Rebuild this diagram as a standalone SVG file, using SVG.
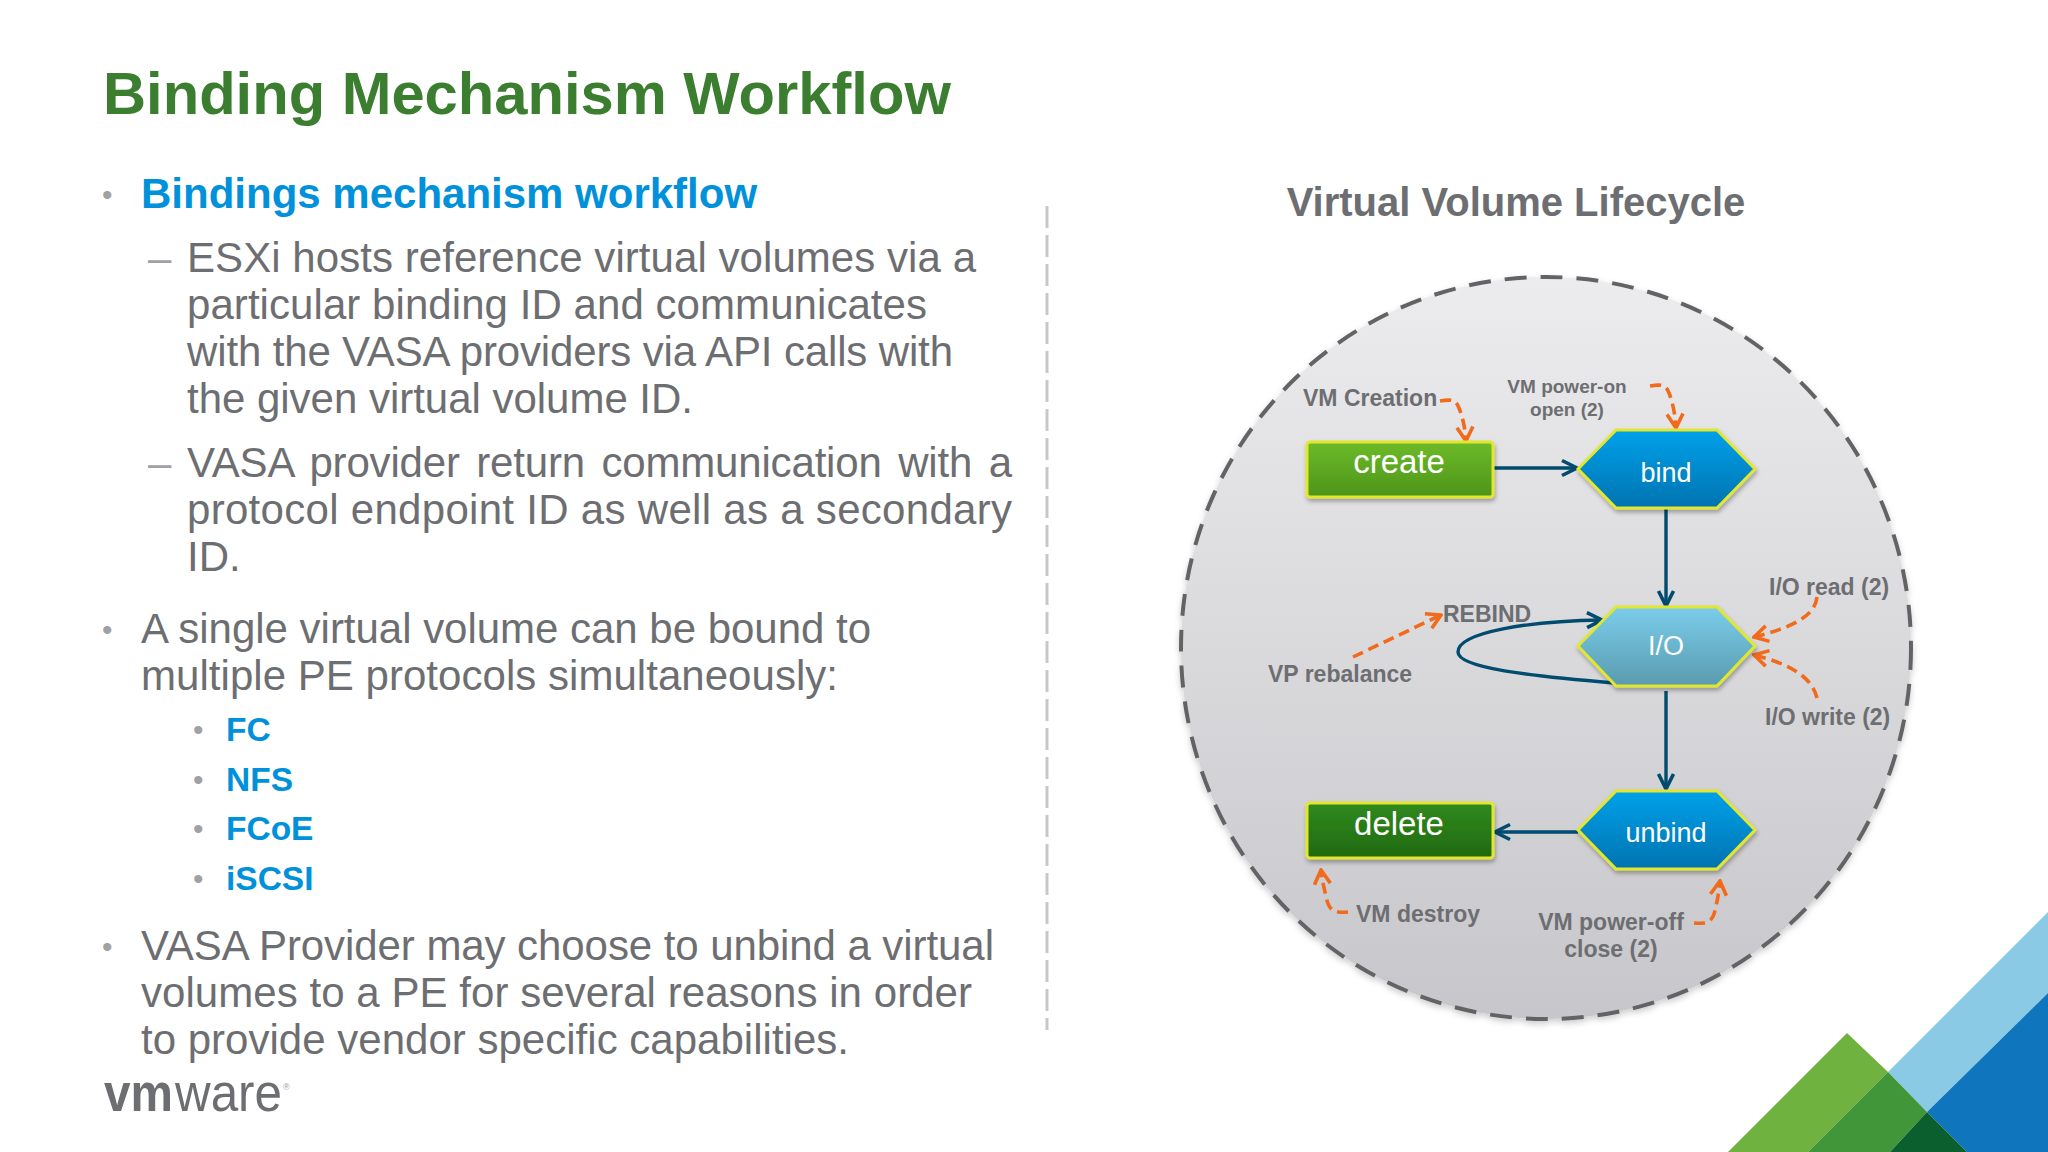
<svg xmlns="http://www.w3.org/2000/svg" width="2048" height="1152" viewBox="0 0 2048 1152">
<defs>
<linearGradient id="gc" x1="0" y1="0" x2="0" y2="1"><stop offset="0" stop-color="#ECECEE"/><stop offset="1" stop-color="#C7C6CA"/></linearGradient>
<linearGradient id="gg1" x1="0" y1="0" x2="0" y2="1"><stop offset="0" stop-color="#6CBB2A"/><stop offset="1" stop-color="#4E9419"/></linearGradient>
<linearGradient id="gg2" x1="0" y1="0" x2="0" y2="1"><stop offset="0" stop-color="#308A1E"/><stop offset="1" stop-color="#21690F"/></linearGradient>
<linearGradient id="gb" x1="0" y1="0" x2="0" y2="1"><stop offset="0" stop-color="#00A1EA"/><stop offset="1" stop-color="#0073B0"/></linearGradient>
<linearGradient id="gi" x1="0" y1="0" x2="0" y2="1"><stop offset="0" stop-color="#7ACDEB"/><stop offset="1" stop-color="#5A9BB0"/></linearGradient>
<filter id="sh" x="-10%" y="-10%" width="120%" height="125%"><feDropShadow dx="1" dy="3" stdDeviation="2" flood-color="#000" flood-opacity="0.3"/></filter>
<filter id="sc" x="-5%" y="-5%" width="110%" height="110%"><feDropShadow dx="0" dy="3" stdDeviation="3" flood-color="#000" flood-opacity="0.2"/></filter>
<marker id="ad" viewBox="0 0 20 20" refX="18" refY="10" markerUnits="userSpaceOnUse" markerWidth="20" markerHeight="20" orient="auto"><path d="M3,2.5 L18,10 L3,17.5" fill="none" stroke="#004B6E" stroke-width="3.6"/></marker>
<marker id="ao" viewBox="0 0 22 22" refX="20" refY="11" markerUnits="userSpaceOnUse" markerWidth="22" markerHeight="22" orient="auto"><path d="M6,3 L20,11 L6,19" fill="none" stroke="#F26A1B" stroke-width="3.6"/></marker>
</defs>
<style>
text{font-family:"Liberation Sans",Arial,sans-serif}
.t{font-size:59.7px;font-weight:700;fill:#3B7E2F}
.b{font-size:42px;fill:#6D6E71}
.h{font-size:42px;font-weight:700;fill:#0091DA}
.s{font-size:33.5px;font-weight:700;fill:#0091DA}
.u{font-size:30px;fill:#A0A1A4}
.d{font-size:42px;fill:#A0A1A4}
.l{font-size:23px;font-weight:700;fill:#6D6E71}
.m{font-size:19px;font-weight:700;fill:#6D6E71;text-anchor:middle}
.n{fill:#fff;text-anchor:middle}
.box{stroke:#E1E62E;stroke-width:3;filter:url(#sh)}
.dk{fill:none;stroke:#004B6E;stroke-width:3.4}
.or{fill:none;stroke:#F26A1B;stroke-width:3.6;stroke-dasharray:11 6;marker-end:url(#ao)}
</style>
<rect width="2048" height="1152" fill="#fff"/>
<text class="t" x="103" y="114">Binding Mechanism Workflow</text>
<g id="bullets">
<text class="u" x="102" y="205">•</text>
<text class="h" x="141" y="208">Bindings mechanism workflow</text>
<text class="d" x="148" y="272">–</text>
<text class="b" x="187" y="272" textLength="789">ESXi hosts reference virtual volumes via a</text>
<text class="b" x="187" y="319" textLength="740">particular binding ID and communicates</text>
<text class="b" x="187" y="366" textLength="766">with the VASA providers via API calls with</text>
<text class="b" x="187" y="413" textLength="506">the given virtual volume ID.</text>
<text class="d" x="148" y="477">–</text>
<text class="b" x="187" y="477" word-spacing="5" textLength="825">VASA provider return communication with a</text>
<text class="b" x="187" y="524" textLength="825">protocol endpoint ID as well as a secondary</text>
<text class="b" x="187" y="571">ID.</text>
<text class="u" x="102" y="640">•</text>
<text class="b" x="141" y="643" textLength="730">A single virtual volume can be bound to</text>
<text class="b" x="141" y="690" textLength="697">multiple PE protocols simultaneously:</text>
<text class="u" x="193" y="740">•</text>
<text class="s" x="226" y="741">FC</text>
<text class="u" x="193" y="790">•</text>
<text class="s" x="226" y="791">NFS</text>
<text class="u" x="193" y="839">•</text>
<text class="s" x="226" y="840">FCoE</text>
<text class="u" x="193" y="889">•</text>
<text class="s" x="226" y="890">iSCSI</text>
<text class="u" x="102" y="957">•</text>
<text class="b" x="141" y="960" textLength="853">VASA Provider may choose to unbind a virtual</text>
<text class="b" x="141" y="1007" textLength="831">volumes to a PE for several reasons in order</text>
<text class="b" x="141" y="1054" textLength="708">to provide vendor specific capabilities.</text>
</g>
<g id="logo">
<text x="104" y="1111" font-size="54" font-weight="700" fill="#6D6E71" textLength="69" lengthAdjust="spacingAndGlyphs">vm</text>
<text x="175" y="1111" font-size="54" fill="#6D6E71" textLength="107" lengthAdjust="spacingAndGlyphs">ware</text>
<text x="283" y="1090" font-size="9" fill="#A0A1A4">®</text>
</g>
<line id="divider" x1="1047" y1="206" x2="1047" y2="1030" stroke="#C8C8CA" stroke-width="3" stroke-dasharray="22 7"/>
<g id="corner">
<polygon points="2048,912 1888,1072 1927,1112 2048,993" fill="#8ACAE5"/>
<polygon points="2048,993 1927,1112 1967,1152 2048,1152" fill="#0F75BC"/>
<polygon points="1847,1033 1728,1152 1808,1152 1888,1072" fill="#70B23F"/>
<polygon points="1888,1072 1808,1152 1890,1152 1927,1112" fill="#419639"/>
<polygon points="1927,1112 1890,1152 1967,1152" fill="#0B5E2D"/>
</g>
<text id="lifecycle-title" x="1516" y="216" font-size="40" font-weight="700" fill="#6D6E71" text-anchor="middle">Virtual Volume Lifecycle</text>
<ellipse id="lifecycle-circle" cx="1546" cy="648" rx="365" ry="371" fill="url(#gc)" stroke="#636466" stroke-width="4" stroke-dasharray="22 14" filter="url(#sc)"/>
<g id="connectors">
<path class="dk" d="M1493,468H1577" marker-end="url(#ad)"/>
<path class="dk" d="M1666,508V606" marker-end="url(#ad)"/>
<path class="dk" d="M1666,691V789" marker-end="url(#ad)"/>
<path class="dk" d="M1578,832H1495" marker-end="url(#ad)"/>
<path class="dk" d="M1614,683C1530,676 1458,668 1458,652C1458,632 1530,621 1602,620" marker-end="url(#ad)"/>
<path class="or" d="M1440,401C1452,399 1456,400 1459,408C1463,418 1465,428 1466,441"/>
<path class="or" d="M1650,386C1662,384 1666,385 1669,393C1673,403 1675,414 1676,428"/>
<path class="or" d="M1353,657L1441,615"/>
<path class="or" d="M1817,597C1815,617 1790,628 1754,637"/>
<path class="or" d="M1817,698C1812,677 1790,664 1754,655"/>
<path class="or" d="M1348,912C1330,914 1328,906 1326,896C1324,888 1322,880 1321,870"/>
<path class="or" d="M1694,923C1712,925 1714,917 1716,906C1718,898 1719,890 1720,881"/>
</g>
<g id="create"><rect class="box" x="1307" y="442" width="186" height="55" rx="3" fill="url(#gg1)"/><text class="n" x="1399" y="473" font-size="33">create</text></g>
<g id="bind"><polygon class="box" points="1578,469 1616,430 1717,430 1755,469 1717,508 1616,508" fill="url(#gb)"/><text class="n" x="1666" y="482" font-size="27">bind</text></g>
<g id="io"><polygon class="box" points="1578,646 1616,607 1717,607 1755,646 1717,686 1616,686" fill="url(#gi)"/><text class="n" x="1666" y="655" font-size="27">I/O</text></g>
<g id="unbind"><polygon class="box" points="1578,830 1616,791 1717,791 1755,830 1717,869 1616,869" fill="url(#gb)"/><text class="n" x="1666" y="842" font-size="27">unbind</text></g>
<g id="delete"><rect class="box" x="1307" y="803" width="186" height="55" rx="3" fill="url(#gg2)"/><text class="n" x="1399" y="835" font-size="33">delete</text></g>
<g id="labels">
<text class="l" x="1303" y="406">VM Creation</text>
<text class="m" x="1567" y="393">VM power-on</text>
<text class="m" x="1567" y="416">open (2)</text>
<text class="l" x="1443" y="622">REBIND</text>
<text class="l" x="1268" y="682">VP rebalance</text>
<text class="l" x="1769" y="595">I/O read (2)</text>
<text class="l" x="1765" y="725">I/O write (2)</text>
<text class="l" x="1356" y="922">VM destroy</text>
<text class="l" x="1611" y="930" text-anchor="middle">VM power-off</text>
<text class="l" x="1611" y="957" text-anchor="middle">close (2)</text>
</g>
</svg>
